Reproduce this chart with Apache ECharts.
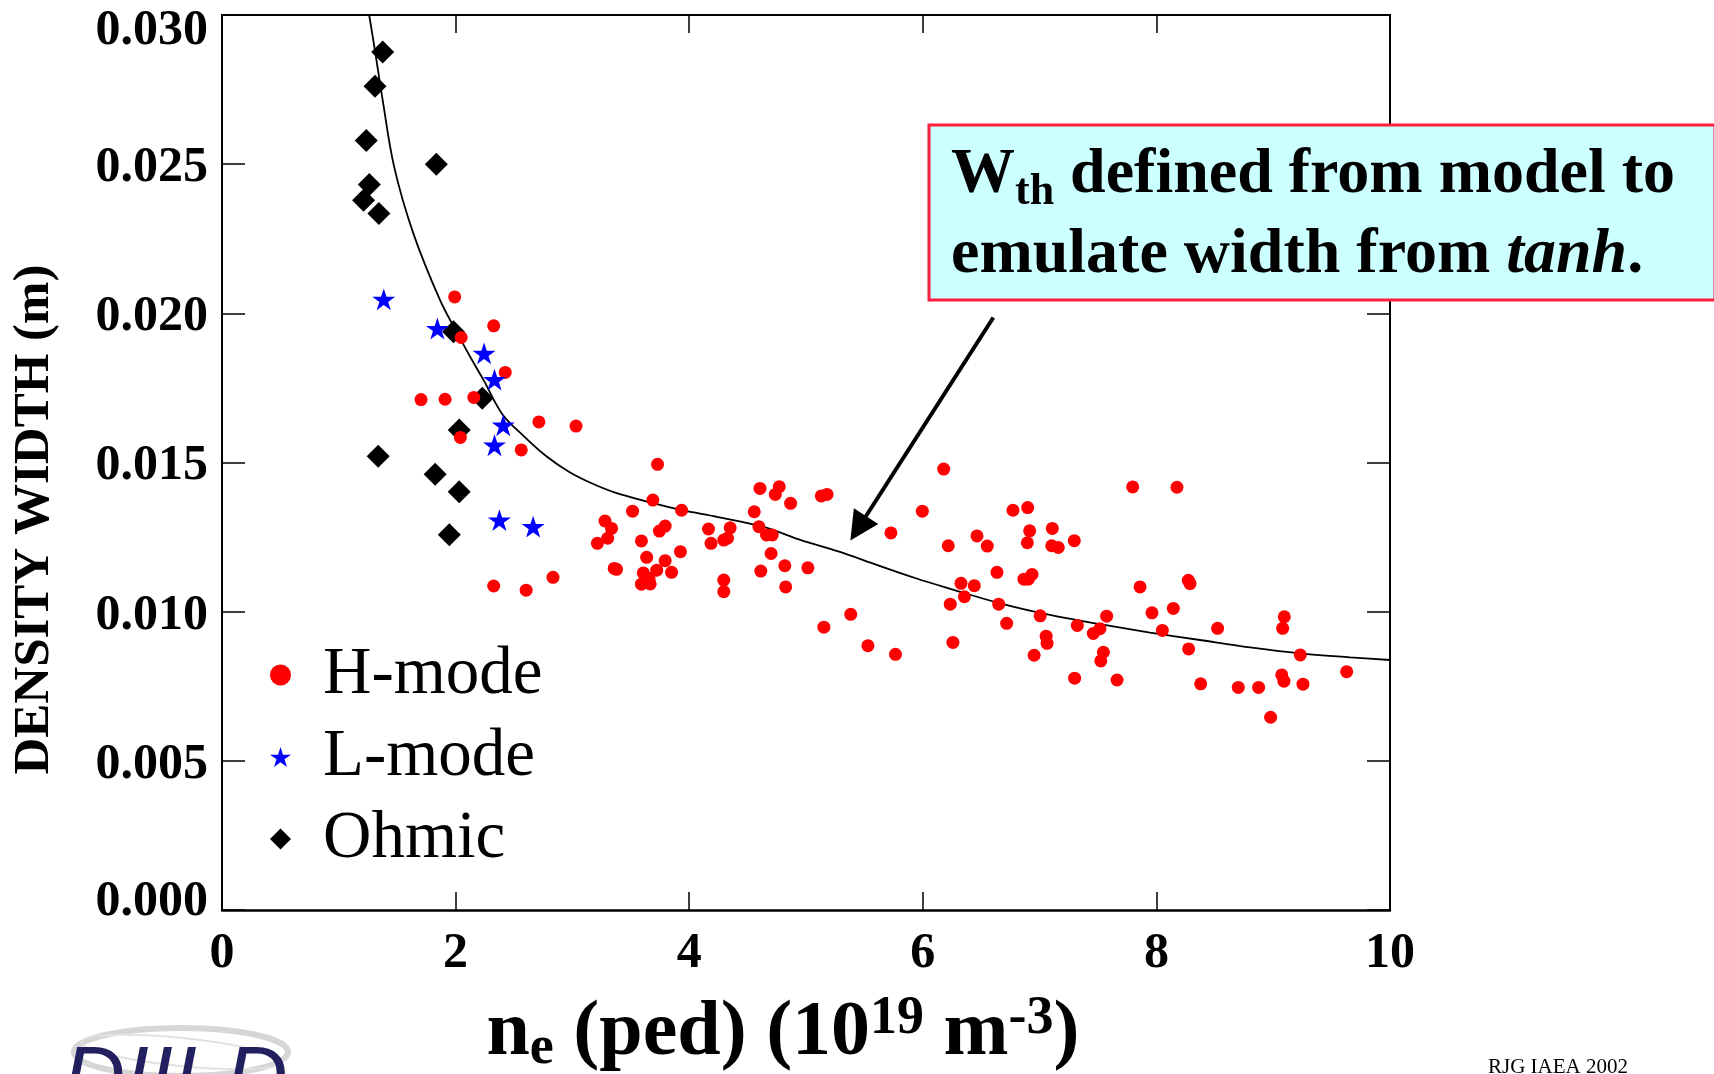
<!DOCTYPE html>
<html>
<head>
<meta charset="utf-8">
<title>Density width vs pedestal density</title>
<script src="https://cdn.jsdelivr.net/npm/echarts@6/dist/echarts.min.js"></script>
<style>
  html, body { margin: 0; padding: 0; background: #fff; }
  #chart { width: 1714px; height: 1074px; }
</style>
</head>
<body>
<div id="chart"></div>
<script>
// values: [ne (1e19 m^-3), width (m)]
const hMode = [
  [1.992, 0.02055], [2.326, 0.01958], [2.048, 0.01919], [2.425, 0.01802], [1.704, 0.01711],
  [1.910, 0.01712], [2.156, 0.01718], [2.713, 0.01636], [3.031, 0.01622], [2.041, 0.01584],
  [2.562, 0.01542], [3.729, 0.01494], [4.606, 0.01413], [4.771, 0.01419], [4.737, 0.01393],
  [4.868, 0.01363], [5.131, 0.01388], [5.180, 0.01393], [3.689, 0.01374], [3.515, 0.01337],
  [3.935, 0.01340], [4.557, 0.01335], [3.279, 0.01304], [3.335, 0.01279], [3.302, 0.01246],
  [3.214, 0.01229], [3.591, 0.01237], [3.745, 0.01270], [3.794, 0.01287], [4.165, 0.01277],
  [4.351, 0.01281], [4.187, 0.01229], [4.296, 0.01240], [4.328, 0.01246], [4.597, 0.01285],
  [4.662, 0.01257], [4.711, 0.01257], [4.701, 0.01195], [4.819, 0.01154], [5.016, 0.01147],
  [4.613, 0.01136], [4.826, 0.01083], [3.925, 0.01201], [3.636, 0.01182], [3.794, 0.01171],
  [3.358, 0.01145], [3.378, 0.01142], [3.607, 0.01130], [3.722, 0.01139], [3.849, 0.01132],
  [3.656, 0.01112], [3.591, 0.01092], [3.666, 0.01093], [4.296, 0.01106], [4.296, 0.01067],
  [2.326, 0.01086], [2.604, 0.01072], [2.834, 0.01115], [6.179, 0.01478], [5.996, 0.01337],
  [5.727, 0.01264], [6.218, 0.01221], [6.464, 0.01254], [6.327, 0.01095], [6.441, 0.01087],
  [6.356, 0.01050], [6.235, 0.01025], [5.383, 0.00991], [5.153, 0.00948], [5.530, 0.00886],
  [5.766, 0.00857], [6.258, 0.00897], [6.552, 0.01220], [6.635, 0.01132], [6.650, 0.01025],
  [6.718, 0.00961], [6.772, 0.01340], [6.898, 0.01349], [6.915, 0.01271], [6.895, 0.01231],
  [6.866, 0.01109], [6.903, 0.01109], [6.935, 0.01125], [7.109, 0.01279], [7.104, 0.01221],
  [7.160, 0.01215], [7.297, 0.01238], [7.005, 0.00986], [7.056, 0.00918], [7.064, 0.00894],
  [6.953, 0.00854], [7.323, 0.00954], [7.460, 0.00927], [7.517, 0.00943], [7.574, 0.00985],
  [7.546, 0.00864], [7.524, 0.00835], [7.300, 0.00777], [7.663, 0.00771], [7.797, 0.01418],
  [8.176, 0.01417], [7.860, 0.01083], [7.962, 0.00996], [8.051, 0.00937], [8.145, 0.01011],
  [8.273, 0.01105], [8.288, 0.01094], [8.276, 0.00875], [8.379, 0.00758], [8.524, 0.00944],
  [8.701, 0.00746], [8.875, 0.00746], [8.978, 0.00646], [9.095, 0.00983], [9.081, 0.00944],
  [9.232, 0.00855], [9.073, 0.00788], [9.092, 0.00767], [9.255, 0.00757], [9.629, 0.00799]
];

const lMode = [
  [1.385, 0.02047], [1.844, 0.01949], [2.244, 0.01866], [2.333, 0.01778],
  [2.408, 0.01625], [2.333, 0.01558], [2.375, 0.01307], [2.664, 0.01285]
];

const ohmic = [
  [1.376, 0.02876], [1.310, 0.02761], [1.235, 0.02579], [1.835, 0.02500], [1.261, 0.02432],
  [1.212, 0.02379], [1.343, 0.02335], [1.982, 0.01938], [2.228, 0.01715], [2.031, 0.01609],
  [1.337, 0.01521], [1.825, 0.01461], [2.031, 0.01402], [1.946, 0.01258]
];

// model curve
const modelCurve = [
  [1.26, 0.0300], [1.31, 0.0288], [1.376, 0.02714], [1.474, 0.02491], [1.638, 0.02268],
  [1.867, 0.02044], [2.015, 0.01933], [2.16, 0.0183], [2.24, 0.01776], [2.40, 0.01662],
  [2.59, 0.01586], [2.78, 0.0152], [2.97, 0.01469], [3.15, 0.01433], [3.36, 0.01400],
  [3.65, 0.01368], [3.94, 0.01340], [4.236, 0.01318], [4.629, 0.01285], [4.957, 0.0124],
  [5.284, 0.01201], [5.612, 0.01156], [5.94, 0.01112], [6.25, 0.01075], [6.661, 0.01028],
  [7.089, 0.00989], [7.517, 0.00958], [7.945, 0.0093], [8.373, 0.00905], [8.801, 0.0088],
  [9.229, 0.0086], [9.658, 0.00847], [10.0, 0.00838]
];

// annotation arrow, in data units
const arrowFrom = [6.604, 0.01986];
const arrowTo = [5.447, 0.012795];

const serif = '"Liberation Serif", "Times New Roman", serif';
const starPath = 'path://M50 0 L61.2 34.5 L97.6 34.5 L68.2 55.9 L79.4 90.5 L50 69.1 L20.6 90.5 L31.8 55.9 L2.4 34.5 L38.8 34.5 Z';
const diamondPath = 'path://M10 0 L20 10 L10 20 L0 10 Z';

const chart = echarts.init(document.getElementById('chart'));

const frameLine = { show: true, onZero: false, lineStyle: { color: '#000', width: 2 } };

const labelFont = { fontFamily: serif, fontSize: 50, fontWeight: 'bold', color: '#000' };

const option = {
  animation: false,
  backgroundColor: '#fff',
  grid: { left: 222, right: 324, top: 15, bottom: 164, containLabel: false, outerBoundsMode: 'none' },
  legend: {
    orient: 'vertical',
    left: 265,
    top: 629,
    itemWidth: 21,
    itemHeight: 21,
    itemGap: 0,
    selectedMode: false,
    textStyle: { fontFamily: serif, fontSize: 67, color: '#000', lineHeight: 82, padding: [0, 0, 0, 27] },
    data: [
      { name: 'H-mode', icon: 'circle' },
      { name: 'L-mode', icon: starPath },
      { name: 'Ohmic', icon: diamondPath }
    ]
  },
  xAxis: [
    {
      type: 'value', min: 0, max: 10, interval: 2, position: 'bottom',
      axisLine: { show: true, onZero: false, lineStyle: { color: '#000', width: 2.5 } },
      axisTick: { show: true, inside: true, length: 18, lineStyle: { color: '#000', width: 1.5 } },
      axisLabel: Object.assign({ margin: 19, showMinLabel: true, showMaxLabel: true }, labelFont),
      splitLine: { show: false },
      name: '{a|n}{s|e}{a| (ped) (10}{p|19}{a| m}{p|-3}{a|)}',
      nameLocation: 'middle',
      nameGap: 82,
      nameTextStyle: {
        padding: [0, 46, 0, 0],
        rich: {
          a: { fontFamily: serif, fontSize: 78, fontWeight: 'bold', color: '#000', lineHeight: 84 },
          s: { fontFamily: serif, fontSize: 54, fontWeight: 'bold', color: '#000', lineHeight: 54, verticalAlign: 'bottom' },
          p: { fontFamily: serif, fontSize: 54, fontWeight: 'bold', color: '#000', lineHeight: 54, verticalAlign: 'top' }
        }
      }
    },
    {
      type: 'value', min: 0, max: 10, interval: 2, position: 'top',
      axisLine: frameLine,
      axisTick: { show: true, inside: true, length: 18, lineStyle: { color: '#000', width: 1.5 } },
      axisLabel: { show: false },
      splitLine: { show: false }
    }
  ],
  yAxis: [
    {
      type: 'value', min: 0, max: 0.03, interval: 0.005, position: 'left',
      axisLine: frameLine,
      axisTick: { show: true, inside: true, length: 23, lineStyle: { color: '#000', width: 1.5 } },
      axisLabel: {
        margin: 14, showMinLabel: true, showMaxLabel: true,
        formatter: v => {
          const t = v.toFixed(3);
          if (Math.abs(v - 0.03) < 1e-9) return '{t|' + t + '}';
          if (Math.abs(v) < 1e-9) return '{b|' + t + '}';
          return '{n|' + t + '}';
        },
        rich: {
          n: Object.assign({ padding: [8, 0, 0, 0] }, labelFont),
          t: Object.assign({ padding: [32, 0, 0, 0] }, labelFont),
          b: Object.assign({ padding: [0, 0, 16, 0] }, labelFont)
        }
      },
      splitLine: { show: false },
      name: 'DENSITY WIDTH (m)',
      nameLocation: 'middle',
      nameGap: 162,
      nameTextStyle: {
        fontFamily: serif, fontSize: 51, fontWeight: 'bold', color: '#000',
        padding: [0, 114, 0, 0]
      }
    },
    {
      type: 'value', min: 0, max: 0.03, interval: 0.005, position: 'right',
      axisLine: frameLine,
      axisTick: { show: true, inside: true, length: 23, lineStyle: { color: '#000', width: 1.5 } },
      axisLabel: { show: false },
      splitLine: { show: false }
    }
  ],
  series: [
    {
      name: 'model',
      type: 'line',
      data: modelCurve,
      smooth: 0.35,
      showSymbol: false,
      silent: true,
      z: 1,
      lineStyle: { color: '#000', width: 1.8 },
      markLine: {
        silent: true,
        animation: false,
        symbol: ['none', 'triangle'],
        symbolSize: 29,
        label: { show: false },
        lineStyle: { color: '#000', width: 4, type: 'solid' },
        itemStyle: { color: '#000' },
        data: [[{ coord: arrowFrom }, { coord: arrowTo }]]
      }
    },
    {
      name: 'Ohmic',
      type: 'scatter',
      data: ohmic,
      symbol: 'diamond',
      symbolSize: 23,
      z: 2,
      itemStyle: { color: '#000', opacity: 1 }
    },
    {
      name: 'H-mode',
      type: 'scatter',
      data: hMode,
      symbol: 'circle',
      symbolSize: 13,
      z: 3,
      itemStyle: { color: '#ff0000', opacity: 1 }
    },
    {
      name: 'L-mode',
      type: 'scatter',
      data: lMode,
      symbol: starPath,
      symbolKeepAspect: true,
      symbolSize: 23,
      z: 4,
      itemStyle: { color: '#0000ff', opacity: 1 }
    }
  ],
  graphic: [
    {
      type: 'rect', z: 100,
      shape: { x: 929, y: 125, width: 786, height: 175 },
      style: { fill: '#ccffff', stroke: '#ff1f3d', lineWidth: 3 }
    },
    {
      type: 'text', z: 101, x: 951, y: 135,
      style: {
        text: '{a|W}{s|th}{a| defined from model to}\n{a|emulate width from }{i|tanh}{a|.}',
        verticalAlign: 'top',
        rich: {
          a: { fontFamily: serif, fontSize: 64, fontWeight: 'bold', fill: '#000', lineHeight: 80 },
          s: { fontFamily: serif, fontSize: 44, fontWeight: 'bold', fill: '#000', lineHeight: 40, verticalAlign: 'bottom' },
          i: { fontFamily: serif, fontSize: 64, fontWeight: 'bold', fontStyle: 'italic', fill: '#000', lineHeight: 80 }
        }
      }
    },
    {
      type: 'ellipse', z: 50,
      shape: { cx: 181, cy: 1052, rx: 107, ry: 24 },
      style: { fill: 'none', stroke: '#d6d6d6', lineWidth: 6 }
    },
    {
      type: 'ellipse', z: 50, x: 181, y: 1052, rotation: -0.1,
      shape: { cx: 0, cy: 0, rx: 100, ry: 14 },
      style: { fill: 'none', stroke: '#e2e2e2', lineWidth: 2 }
    },
    {
      type: 'text', z: 51, x: 63, y: 1039,
      style: {
        text: 'DIII-D',
        font: 'italic 86px "Liberation Sans", sans-serif',
        fill: '#22205f',
        verticalAlign: 'top'
      }
    },
    {
      type: 'text', z: 51, x: 1488, y: 1057,
      style: {
        text: 'RJG IAEA 2002',
        font: '21px ' + serif,
        fill: '#000',
        verticalAlign: 'top'
      }
    }
  ]
};

chart.setOption(option);
</script>
</body>
</html>
